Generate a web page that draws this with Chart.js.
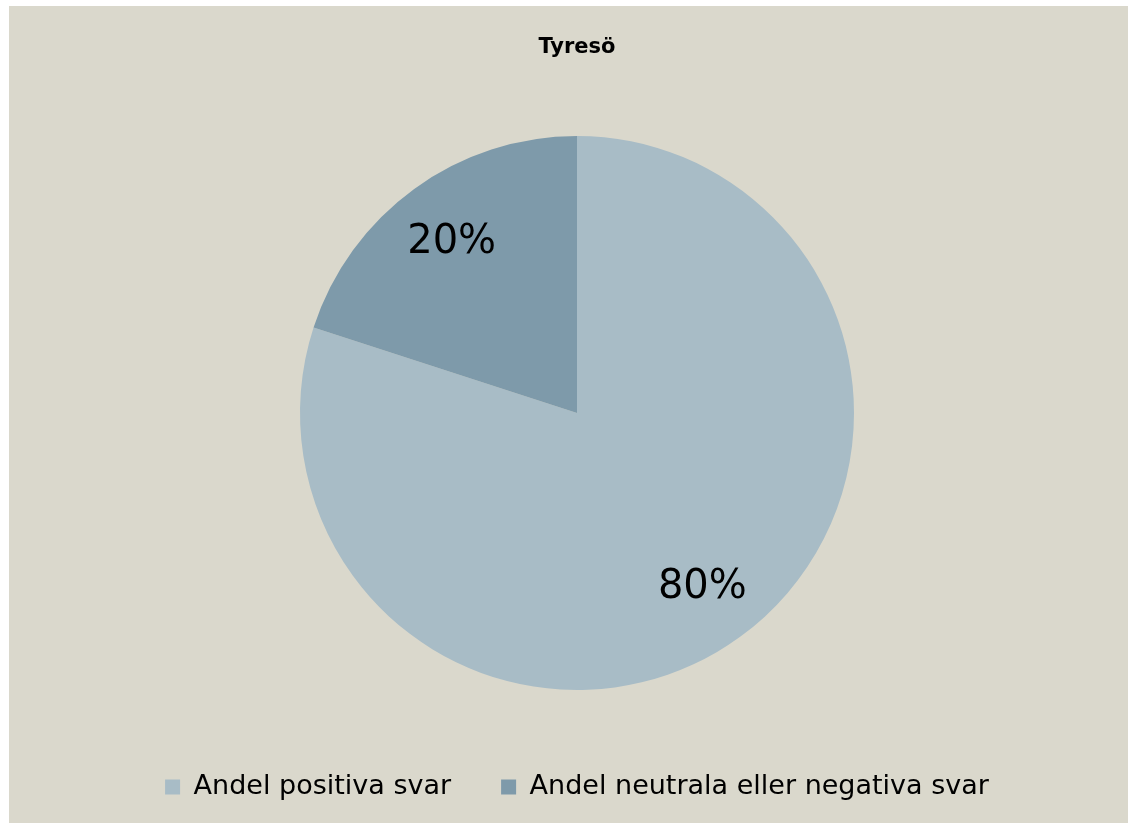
<!DOCTYPE html>
<html>
<head>
<meta charset="utf-8">
<script src="https://cdn.jsdelivr.net/npm/chart.js@4/dist/chart.umd.min.js"></script>
<style>
  html, body { margin: 0; padding: 0; background: #ffffff; }
  #wrap { position: absolute; left: 9px; top: 6px; width: 1119px; height: 817px; background: #dad8cc; }
</style>
</head>
<body>
<div id="wrap"><canvas id="chart1"></canvas></div>
<script>
const labels1 = ['Andel positiva svar', 'Andel neutrala eller negativa svar'];
const values1 = [80, 20];
const colors1 = ['#a8bcc6', '#7e9aaa'];
const titleText = 'Tyresö';

const fontFamily = '"Century Gothic", "DejaVu Sans", sans-serif';

// percentage labels inside the slices
const sliceLabels = {
  id: 'sliceLabels',
  afterDatasetsDraw(chart) {
    const ctx = chart.ctx;
    const meta = chart.getDatasetMeta(0);
    const total = values1.reduce((a, b) => a + b, 0);
    ctx.save();
    ctx.font = '40px ' + fontFamily;
    ctx.fillStyle = '#000000';
    ctx.textAlign = 'center';
    ctx.textBaseline = 'middle';
    meta.data.forEach((arc, i) => {
      const p = arc.getProps(['x', 'y', 'startAngle', 'endAngle', 'outerRadius']);
      const mid = (p.startAngle + p.endAngle) / 2;
      const r = p.outerRadius * 0.77;
      const pct = Math.round(values1[i] / total * 100) + '%';
      ctx.fillText(pct, p.x + Math.cos(mid) * r, p.y + Math.sin(mid) * r + 2);
    });
    ctx.restore();
  }
};

const data1 = {
  labels: labels1,
  datasets: [{
    data: values1,
    backgroundColor: colors1,
    borderWidth: 0,
    radius: 277
  }]
};

const config1 = {
  type: 'pie',
  data: data1,
  options: {
    responsive: true,
    maintainAspectRatio: false,
    animation: false,
    layout: {
      padding: { left: 17, right: 0, top: 0, bottom: 12.5 }
    },
    plugins: {
      title: {
        display: true,
        text: titleText,
        color: '#000000',
        font: { family: fontFamily, size: 21, weight: 'bold' },
        padding: { top: 29.4, bottom: 41.9 }
      },
      legend: {
        position: 'bottom',
        labels: {
          color: '#000000',
          font: { family: fontFamily, size: 27 },
          boxWidth: 15,
          boxHeight: 15,
          padding: 50
        }
      },
      tooltip: { enabled: false }
    }
  },
  plugins: [sliceLabels]
};

const chart1 = new Chart(document.getElementById('chart1'), config1);
</script>
</body>
</html>
